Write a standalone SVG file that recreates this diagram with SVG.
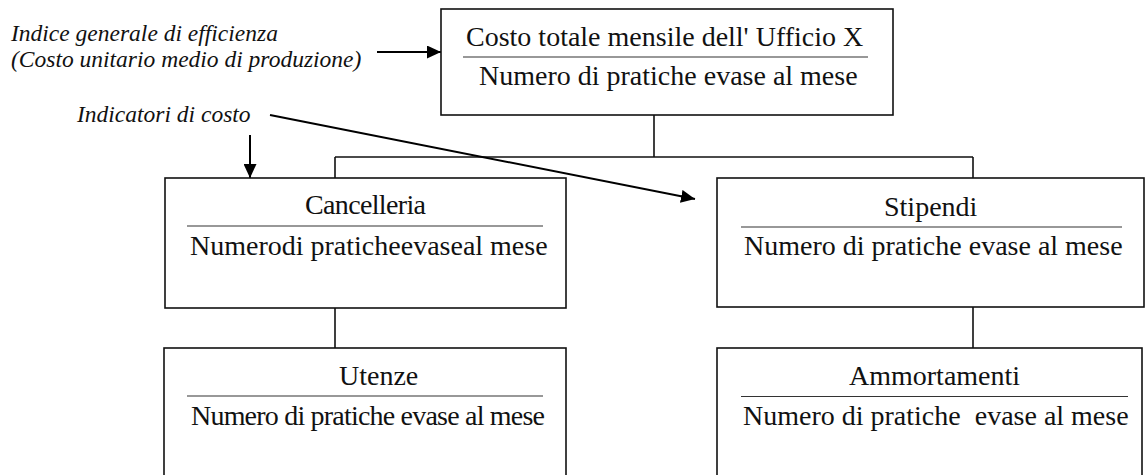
<svg xmlns="http://www.w3.org/2000/svg" width="1145" height="475" viewBox="0 0 1145 475">
<style>
.box{fill:#fff;stroke:#111;stroke-width:1.6}
.div{stroke:#333;stroke-width:1.2}
.t{font-family:"Liberation Serif","Times New Roman",serif;font-size:28px;fill:#111}
.it{font-family:"Liberation Serif","Times New Roman",serif;font-size:23.5px;font-style:italic;fill:#111}
.con{fill:none;stroke:#111;stroke-width:1.6}
.arr{fill:none;stroke:#000;stroke-width:2;marker-end:url(#ah)}
</style>
<defs>
<marker id="ah" markerUnits="userSpaceOnUse" markerWidth="15" markerHeight="13" refX="14" refY="6.5" orient="auto">
<path d="M0,0 L14,6.5 L0,13 z" fill="#000"/>
</marker>
</defs>
<g id="connectors">
<path class="con" d="M654,115 V157 M335,157 H973 M335,157 V178 M973,157 V178 M335,306 V348 M973,306 V348"/>
<line class="arr" x1="377" y1="52" x2="441" y2="52"/>
<line class="arr" x1="250" y1="135" x2="250" y2="178"/>
<line class="arr" x1="270" y1="115" x2="695" y2="199"/>
</g>
<g id="labels">
<text class="it" x="11" y="41">Indice generale di efficienza</text>
<text class="it" x="11" y="67">(Costo unitario medio di produzione)</text>
<text class="it" x="77" y="122">Indicatori di costo</text>
</g>
<g id="node-totale">
<rect class="box" x="441" y="9" width="452" height="106"/>
<text class="t" x="466" y="46">Costo totale mensile dell' Ufficio X</text>
<line class="div" x1="463" y1="57" x2="868" y2="57"/>
<text class="t" x="479" y="85">Numero di pratiche evase al mese</text>
</g>
<g id="node-cancelleria">
<rect class="box" x="165" y="178" width="401" height="130"/>
<text class="t" x="305" y="214" textLength="121" lengthAdjust="spacing">Cancelleria</text>
<line class="div" x1="187" y1="226" x2="543" y2="226"/>
<text class="t" x="190" y="255">Numerodi praticheevaseal mese</text>
</g>
<g id="node-stipendi">
<rect class="box" x="717" y="178" width="427" height="129"/>
<text class="t" x="884" y="216">Stipendi</text>
<line class="div" x1="741" y1="227" x2="1122" y2="227"/>
<text class="t" x="744" y="255">Numero di pratiche evase al mese</text>
</g>
<g id="node-utenze">
<rect class="box" x="164" y="348" width="402" height="140"/>
<text class="t" x="339" y="385">Utenze</text>
<line class="div" x1="187" y1="396" x2="543" y2="396"/>
<text class="t" x="191" y="425" textLength="354" lengthAdjust="spacing">Numero di pratiche evase al mese</text>
</g>
<g id="node-ammortamenti">
<rect class="box" x="717" y="348" width="425" height="140"/>
<text class="t" x="849" y="385">Ammortamenti</text>
<line class="div" x1="741" y1="396.5" x2="1128" y2="396.5"/>
<text class="t" x="743" y="425" xml:space="preserve">Numero di pratiche  evase al mese</text>
</g>
</svg>
